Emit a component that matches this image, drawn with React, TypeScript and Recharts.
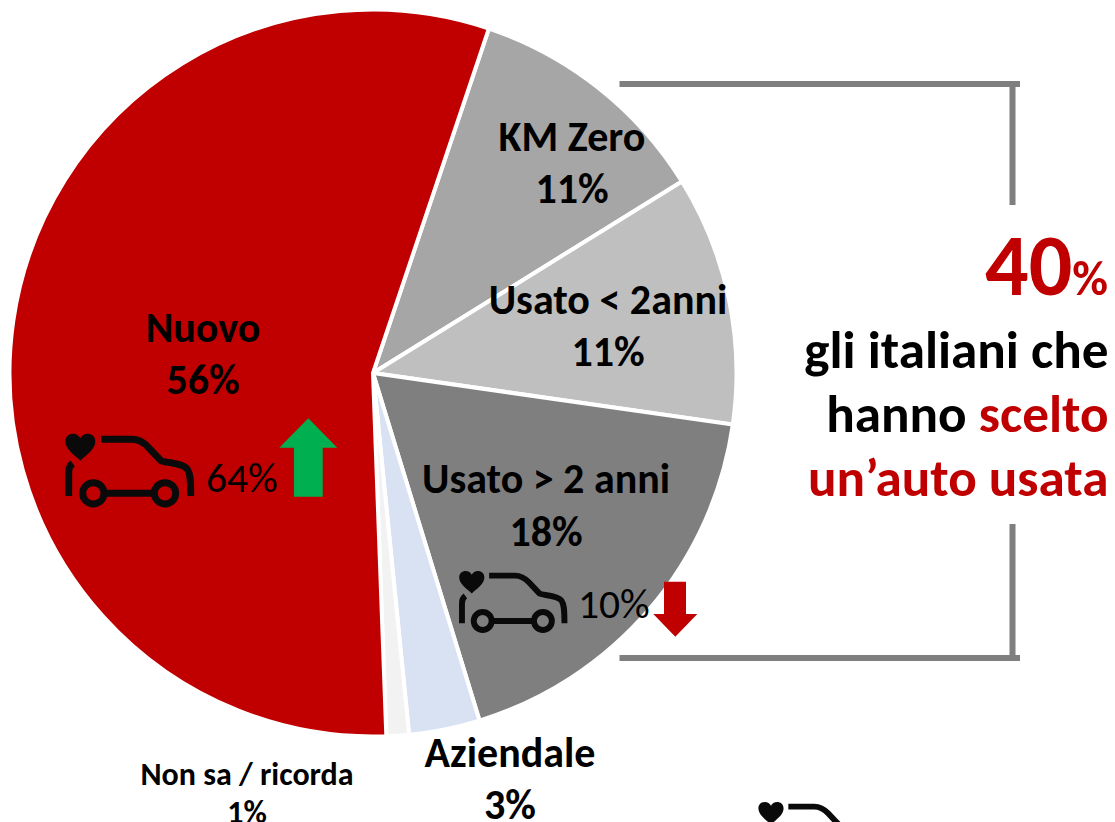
import React from "react";
import { PieChart, Pie, Cell } from "recharts";

const names = ["KM Zero", "Usato < 2anni", "Usato > 2 anni", "Aziendale", "Non sa / ricorda", "Nuovo"];
const shares = [11, 11.1, 18, 3.15, 1, 55.75];
const shownPercents = ["11%", "11%", "18%", "3%", "1%", "56%"];
const colors = ["#A6A6A6", "#BFBFBF", "#7F7F7F", "#D9E2F3", "#F2F2F2", "#C00000"];
const labelAnchors = [
  { x: 572, y1: 151, y2: 203, size: 42 },
  { x: 608, y1: 314, y2: 366, size: 42 },
  { x: 546, y1: 493, y2: 546, size: 42 },
  { x: 510, y1: 767, y2: 819, size: 42 },
  { x: 247, y1: 785, y2: 823, size: 32 },
  { x: 203, y1: 342, y2: 394, size: 42 },
];
const pieData = names.map((name, i) => ({ name, value: shares[i] }));

const FONT = "Carlito, Lato, 'Open Sans', sans-serif";

const CarIcon = ({ tx, ty, s }: { tx: number; ty: number; s: number }) => (
  <g transform={`translate(${tx} ${ty}) scale(${s})`} fill="none" stroke="#0a0a0a" strokeWidth={21}>
    <path d="M91 152 C72 134 46 118 46 94 C46 78 58 71 69 71 C79 71 87 77 91 85 C95 77 103 71 113 71 C124 71 136 78 136 94 C136 118 110 134 91 152Z" fill="#0a0a0a" stroke="none" />
    <path d="M153 88 H245 C268 88 282 98 295 112 L333 152 C340 158 400 158 412 178 C420 190 422 205 422 258" />
    <path d="M56 258 V186 C56 174 60 166 68 160" />
    <circle cx={130} cy={250} r={32} />
    <circle cx={345} cy={250} r={32} />
    <path d="M163 250 H312" />
  </g>
);

const renderLabel = (p: any) => {
  const a = labelAnchors[p.index];
  return (
    <text key={p.index} fontFamily={FONT} fontWeight={700} fontSize={a.size} fill="#000" textAnchor="middle">
      <tspan x={a.x} y={a.y1}>{names[p.index]}</tspan>
      <tspan x={a.x} y={a.y2}>{shownPercents[p.index]}</tspan>
    </text>
  );
};

export default function App() {
  return (
    <div style={{ position: "absolute", left: 0, top: 0, width: 1115, height: 822, overflow: "hidden", background: "#fff" }}>
      <div style={{ position: "absolute", left: 0, top: 0 }}>
        <PieChart width={1115} height={822} margin={{ top: 0, right: 0, bottom: 0, left: 0 }}>
          <Pie
            data={pieData}
            dataKey="value"
            nameKey="name"
            cx={373}
            cy={373}
            innerRadius={0}
            outerRadius={363.5}
            startAngle={71.4}
            endAngle={-288.6}
            stroke="#fff"
            strokeWidth={4}
            isAnimationActive={false}
            label={renderLabel}
            labelLine={false}
          >
            {pieData.map((d, i) => (
              <Cell key={d.name} fill={colors[i]} />
            ))}
          </Pie>
        </PieChart>
      </div>
      <svg width={1115} height={822} style={{ position: "absolute", left: 0, top: 0, pointerEvents: "none" }}>
        <CarIcon tx={50} ty={410} s={1 / 3} />
        <CarIcon tx={446.3} ty={551} s={0.28} />
        <CarIcon tx={745.5} ty={782} s={0.28} />
        <text x={206} y={492} fontFamily={FONT} fontSize={41.5} fill="#000">64%</text>
        <text x={578} y={618} fontFamily={FONT} fontSize={41.5} fill="#000">10%</text>
        <polygon points="308.3,418.3 337.3,447.7 322.7,447.7 322.7,496.7 294,496.7 294,447.7 279.3,447.7" fill="#00B050" />
        <polygon points="664,581.7 686,581.7 686,614 697.3,614 675.3,636.7 653.3,614 664,614" fill="#C00000" />
        <rect x={619.5} y={81} width={400.5} height={6} fill="#7F7F7F" />
        <rect x={1009.5} y={81} width={6} height={124} fill="#7F7F7F" />
        <rect x={619.5} y={655} width={400.5} height={6} fill="#7F7F7F" />
        <rect x={1009.5} y={524} width={6} height={136} fill="#7F7F7F" />
        <g fontFamily={FONT} fontWeight={700} textAnchor="end">
          <text x={1108} y={295} fill="#C00000" fontSize={86}>40<tspan fontSize={49}>%</tspan></text>
          <text x={1108.5} y={368} fill="#000" fontSize={53.2}>gli italiani che</text>
          <text x={1108.5} y={432} fill="#000" fontSize={53.2}>hanno <tspan fill="#C00000">scelto</tspan></text>
          <text x={1108.5} y={496} fill="#C00000" fontSize={53.2}>un’auto usata</text>
        </g>
      </svg>
    </div>
  );
}
